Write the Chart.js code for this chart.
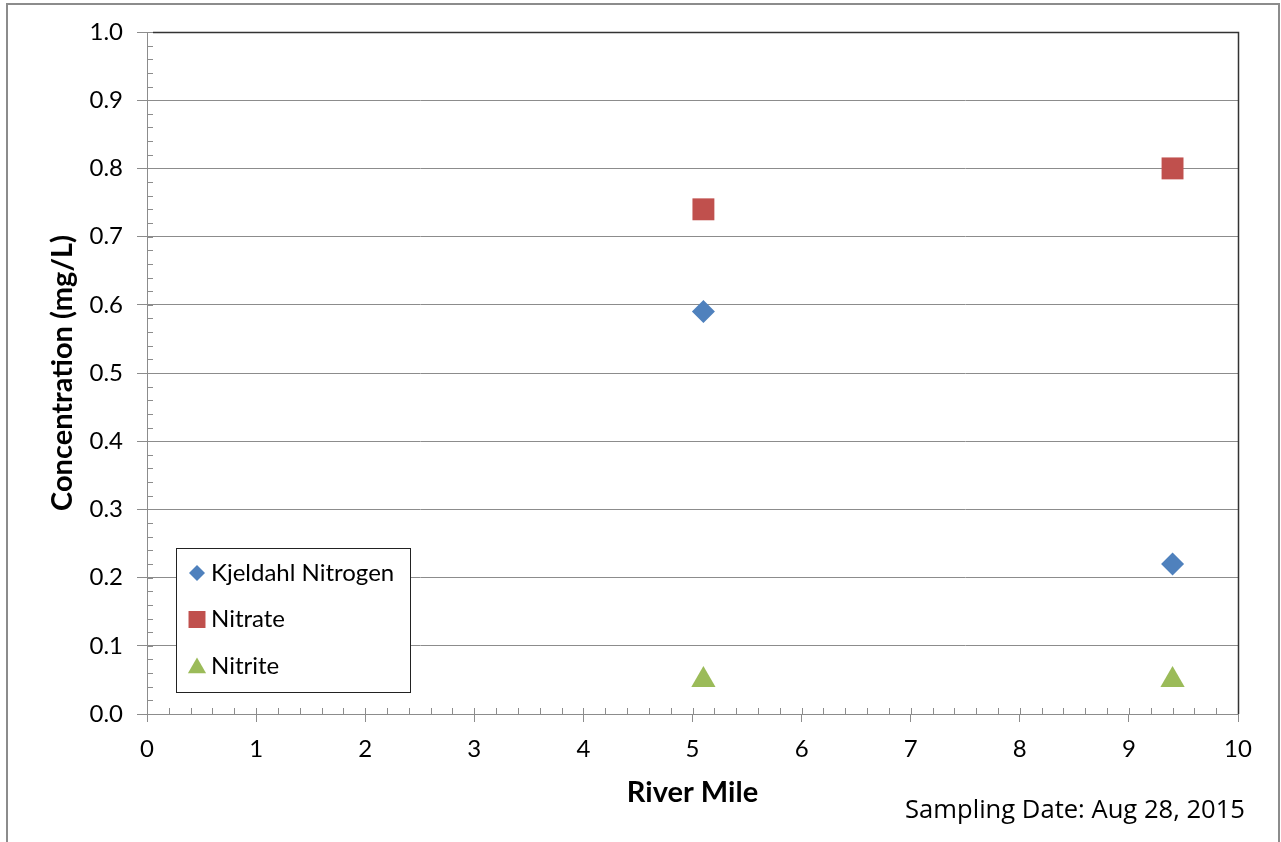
<!DOCTYPE html>
<html>
<head>
<meta charset="utf-8">
<script src="https://cdn.jsdelivr.net/npm/chart.js@4.4.1/dist/chart.umd.min.js"></script>
<style>
  html, body { margin: 0; padding: 0; background: #fff; }
  #wrap { position: relative; width: 1281px; height: 842px; overflow: hidden; }
  #note {
    position: absolute; right: 36px; top: 791px;
    font-family: "Open Sans", sans-serif; font-size: 25.6px; color: #000;
  }
</style>
</head>
<body>
<div id="wrap">
  <canvas id="c" width="1281" height="842"></canvas>
  <div id="note">Sampling Date: Aug 28, 2015</div>
</div>
<script>
const seriesNames = ['Kjeldahl Nitrogen', 'Nitrate', 'Nitrite'];
const riverMiles = [5.1, 9.4];
const kjeldahl = [0.59, 0.22];
const nitrate = [0.74, 0.80];
const nitrite = [0.05, 0.05];
const yTicks = [0, 0.1, 0.2, 0.3, 0.4, 0.5, 0.6, 0.7, 0.8, 0.9, 1.0];
const xTicks = [0, 1, 2, 3, 4, 5, 6, 7, 8, 9, 10];

const FONT = 'Lato, Calibri, sans-serif';
const GRID = '#8c8c8c';

function pts(ys) {
  return riverMiles.map((x, i) => ({ x: x, y: ys[i] }));
}

// frame, plot border, inward minor ticks and the boxed legend
const decor = {
  id: 'decor',
  beforeDatasetsDraw(chart) {
    const ctx = chart.ctx;
    const a = chart.chartArea;
    const xs = chart.scales.x, ys = chart.scales.y;
    ctx.save();
    ctx.strokeStyle = GRID;
    ctx.lineWidth = 1;
    ctx.beginPath();
    for (let v = 0; v <= 10.001; v += 0.2) {
      const px = Math.round(xs.getPixelForValue(v)) + 0.5;
      ctx.moveTo(px, a.bottom);
      ctx.lineTo(px, a.bottom - 6);
    }
    for (let v = 0; v <= 1.0001; v += 0.02) {
      const py = Math.round(ys.getPixelForValue(v)) + 0.5;
      ctx.moveTo(a.left, py);
      ctx.lineTo(a.left + 6, py);
    }
    ctx.stroke();
    ctx.strokeStyle = '#333';
    ctx.lineWidth = 1.5;
    ctx.beginPath();
    ctx.moveTo(a.left + 6, Math.round(a.top) + 0.5);
    ctx.lineTo(Math.round(a.right) + 0.5, Math.round(a.top) + 0.5);
    ctx.lineTo(Math.round(a.right) + 0.5, a.bottom);
    ctx.stroke();
    ctx.strokeStyle = '#8c8c8c';
    ctx.lineWidth = 2;
    ctx.strokeRect(7, 4, 1272, 900);
    ctx.restore();
  },
  afterDraw(chart) {
    const ctx = chart.ctx;
    const a = chart.chartArea;
    const bx = a.left + 29, by = 548, bw = 234, bh = 144;
    ctx.save();
    ctx.fillStyle = '#fff';
    ctx.fillRect(bx, by, bw, bh);
    ctx.strokeStyle = '#222';
    ctx.lineWidth = 1;
    ctx.strokeRect(bx + 0.5, by + 0.5, bw, bh);
    const sizes = [8, 12, 10.5];
    chart.data.datasets.forEach((ds, i) => {
      const cy = by + 25 + i * 46.5;
      ctx.fillStyle = ds.backgroundColor;
      ctx.strokeStyle = ds.backgroundColor;
      Chart.helpers.drawPoint(ctx, { pointStyle: ds.pointStyle, radius: sizes[i], borderWidth: 0 }, bx + 21, cy + (i === 2 ? 2 : 0));
      ctx.fillStyle = '#000';
      ctx.font = '24px ' + FONT;
      ctx.textBaseline = 'middle';
      ctx.fillText(ds.label, bx + 35, cy);
    });
    ctx.restore();
  }
};

new Chart(document.getElementById('c'), {
  type: 'scatter',
  data: {
    datasets: [
      { label: seriesNames[0], data: pts(kjeldahl), pointStyle: 'rectRot', pointRadius: 11.5,
        backgroundColor: '#4f81bd', borderColor: '#4f81bd', borderWidth: 0 },
      { label: seriesNames[1], data: pts(nitrate), pointStyle: 'rect', pointRadius: 15.5,
        backgroundColor: '#c0504d', borderColor: '#c0504d', borderWidth: 0 },
      { label: seriesNames[2], data: pts(nitrite), pointStyle: 'triangle', pointRadius: 14,
        backgroundColor: '#9bbb59', borderColor: '#9bbb59', borderWidth: 0 }
    ]
  },
  options: {
    responsive: false,
    animation: false,
    events: [],
    layout: { padding: { top: 32, right: 43, left: 0, bottom: 0 } },
    plugins: { legend: { display: false }, tooltip: { enabled: false } },
    scales: {
      x: {
        type: 'linear', min: 0, max: 10,
        afterFit(s) { s.height = 128; },
        afterBuildTicks(s) { s.ticks = xTicks.map(v => ({ value: v })); },
        grid: { drawOnChartArea: false, drawTicks: true, tickLength: 8, color: GRID },
        border: { display: true, color: GRID, width: 1 },
        ticks: { color: '#000', padding: 13, font: { family: FONT, size: 24 }, callback: v => String(v) },
        title: { display: true, text: 'River Mile', color: '#000',
          font: { family: FONT, size: 29, weight: 'bold' }, padding: { top: 0, bottom: 32 } }
      },
      y: {
        type: 'linear', min: 0, max: 1.0,
        afterFit(s) { s.width = 147; },
        afterBuildTicks(s) { s.ticks = yTicks.map(v => ({ value: v })); },
        grid: { drawOnChartArea: true, drawTicks: true, tickLength: 10, color: GRID },
        border: { display: true, color: GRID, width: 1 },
        ticks: { color: '#000', padding: 14, font: { family: FONT, size: 24 }, callback: v => Number(v).toFixed(1) },
        title: { display: true, text: 'Concentration (mg/L)', color: '#000',
          font: { family: FONT, size: 29, weight: 'bold' }, padding: { top: 45, bottom: 0 } }
      }
    }
  },
  plugins: [decor]
});
</script>
</body>
</html>
